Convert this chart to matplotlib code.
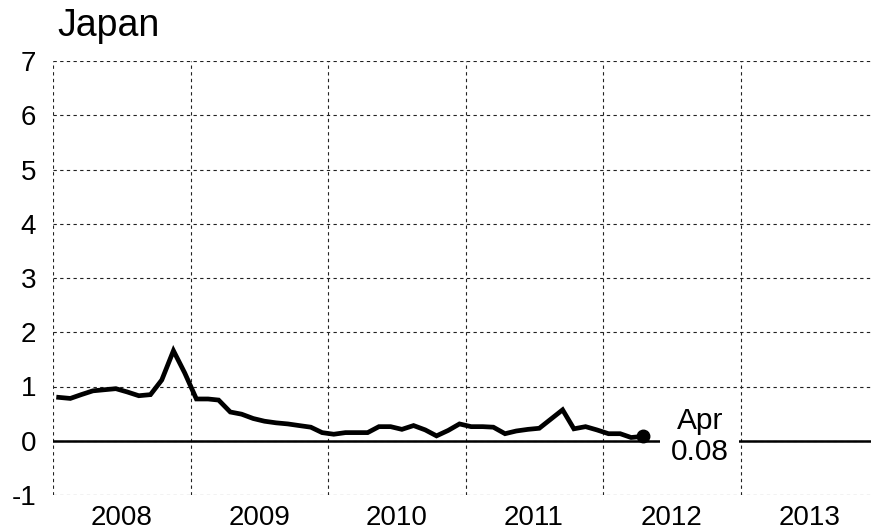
import matplotlib
matplotlib.use("Agg")
import matplotlib.pyplot as plt
import pandas as pd
import datetime as dt

plt.rcParams['font.family'] = ['Liberation Sans', 'DejaVu Sans']

title = "Japan"
start_month = "2008-01"
values = [
    0.80, 0.78, 0.85, 0.92, 0.94, 0.96, 0.90, 0.83, 0.85, 1.12, 1.66, 1.25,  # 2008
    0.77, 0.77, 0.75, 0.53, 0.49, 0.41, 0.36, 0.33, 0.31, 0.28, 0.25, 0.15,  # 2009
    0.12, 0.15, 0.15, 0.15, 0.26, 0.26, 0.21, 0.28, 0.20, 0.09, 0.19, 0.31,  # 2010
    0.26, 0.26, 0.25, 0.13, 0.18, 0.21, 0.23, 0.40, 0.57, 0.22, 0.26, 0.20,  # 2011
    0.13, 0.13, 0.06, 0.08,                                                  # 2012
]
last_label = "Apr\n0.08"
years = [2008, 2009, 2010, 2011, 2012, 2013]
y_ticks = [-1, 0, 1, 2, 3, 4, 5, 6, 7]

dates = pd.date_range(start_month, periods=len(values), freq="MS") + pd.Timedelta(days=15)

fig = plt.figure(figsize=(8.71, 5.31), dpi=100)
ax = fig.add_axes([53/871, 36/531, 825/871, 434/531])

ax.set_xlim(dt.datetime(years[0], 1, 1), dt.datetime(years[-1] + 1, 1, 1))
ax.set_ylim(y_ticks[0], y_ticks[-1])

ax.set_yticks(y_ticks)
ax.set_yticklabels([str(v) for v in y_ticks])
ax.set_xticks([dt.datetime(y, 7, 2) for y in years])
ax.set_xticklabels([str(y) for y in years])
ax.set_xticks([dt.datetime(y, 1, 1) for y in years + [years[-1] + 1]], minor=True)
ax.grid(True, axis='y', which='major', color='#222222', linestyle=(0, (3, 3)), linewidth=0.8)
ax.grid(True, axis='x', which='minor', color='#222222', linestyle=(0, (3, 3)), linewidth=0.8)
ax.grid(False, axis='x', which='major')
ax.tick_params(axis='both', which='both', length=0, labelsize=20, colors='black')
ax.tick_params(axis='y', pad=12)
ax.tick_params(axis='x', pad=7)
for s in ax.spines.values():
    s.set_visible(False)

ax.axhline(0, color='black', linewidth=1.8, zorder=2)
ax.plot(dates, values, color='black', linewidth=3.4, solid_joinstyle='miter', zorder=3)
ax.plot(dates[-1:], values[-1:], 'o', color='black', markersize=9, zorder=4)

ax.annotate(last_label, xy=(dates[-1], values[-1]), xytext=(41, 0),
            textcoords='offset points', ha='center', va='center',
            fontsize=21.5, linespacing=1.1, zorder=5,
            bbox=dict(boxstyle='square,pad=0.35', fc='white', ec='none'))

fig.text(57/871, 1 - 36/531, title, fontsize=27, va='baseline', ha='left')

fig.savefig("out.png", dpi=100)
